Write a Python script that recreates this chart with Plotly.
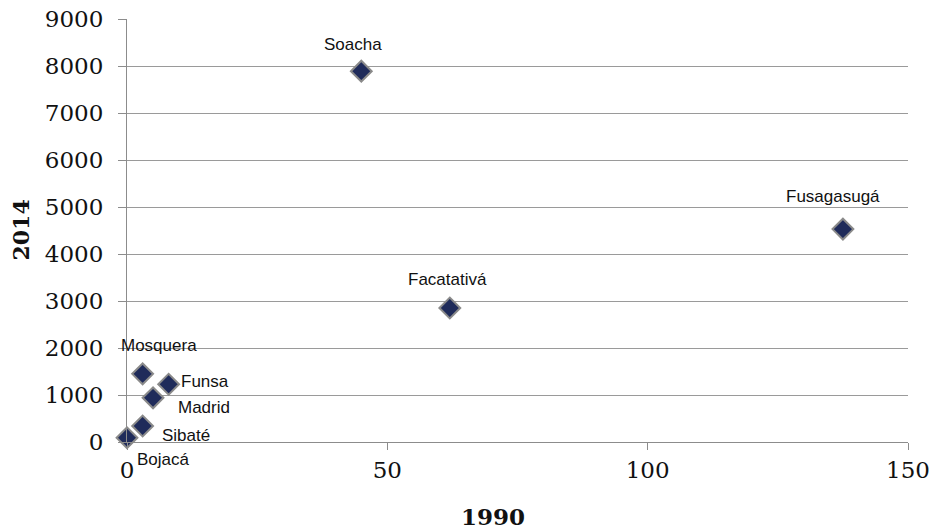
import plotly.graph_objects as go

municipios = ["Soacha", "Fusagasugá", "Facatativá", "Mosquera", "Funsa", "Madrid", "Sibaté", "Bojacá"]
v1990 = [45, 137.5, 62, 3, 8, 5, 3, 0]
v2014 = [7890, 4530, 2850, 1450, 1230, 940, 340, 90]
x_ticks = [0, 50, 100, 150]
y_ticks = [0, 1000, 2000, 3000, 4000, 5000, 6000, 7000, 8000, 9000]

# label offsets in pixels (dx, dy up)
label_offsets = {
    "Soacha": (-8, 27), "Fusagasugá": (-10, 33), "Facatativá": (-2, 29),
    "Mosquera": (16, 28), "Funsa": (36, 3), "Madrid": (51, -10),
    "Sibaté": (43, -9), "Bojacá": (36, -22),
}

fig = go.Figure()
fig.add_trace(go.Scatter(
    x=v1990, y=v2014, mode="markers",
    marker=dict(symbol="diamond", size=16, color="#1F2B5A",
                line=dict(color="#8A8A8A", width=2)),
    cliponaxis=False, hoverinfo="skip", showlegend=False,
))

annotations = []
for name, x, y in zip(municipios, v1990, v2014):
    dx, dy = label_offsets[name]
    annotations.append(dict(x=x, y=y, xref="x", yref="y", text=name, showarrow=False,
                            xshift=dx, yshift=dy, xanchor="center", yanchor="middle",
                            font=dict(family="Liberation Sans", size=17, color="#111111")))
annotations.append(dict(x=0.469, y=-0.177, xref="paper", yref="paper", text="<b>1990</b>",
                        showarrow=False, xanchor="center", yanchor="middle",
                        font=dict(family="DejaVu Serif", size=23, color="#111111")))
annotations.append(dict(x=-0.137, y=0.5, xref="paper", yref="paper", text="<b>2014</b>",
                        showarrow=False, textangle=-90, xanchor="center", yanchor="middle",
                        font=dict(family="DejaVu Serif", size=22, color="#111111")))

fig.update_layout(
    width=931, height=532,
    margin=dict(l=127, r=23, t=19, b=90),
    paper_bgcolor="white", plot_bgcolor="white",
    annotations=annotations,
    xaxis=dict(range=[0, 150], tickvals=x_ticks, showgrid=False, zeroline=False,
               automargin=False, ticklabeloverflow="allow",
               showline=True, linecolor="#8C8C8C", linewidth=1,
               ticks="outside", ticklen=7, tickcolor="#8C8C8C", ticklabelstandoff=0,
               tickfont=dict(family="DejaVu Serif", size=23, color="#111111")),
    yaxis=dict(range=[0, 9000], tickvals=y_ticks, showgrid=True, gridcolor="#9A9A9A",
               automargin=False, ticklabeloverflow="allow",
               zeroline=False, showline=True, linecolor="#8C8C8C", linewidth=1,
               ticks="outside", ticklen=8, tickcolor="#8C8C8C", ticklabelstandoff=10,
               tickfont=dict(family="DejaVu Serif", size=23, color="#111111")),
)

fig.write_html("out.html", config={"displayModeBar": False},
               post_script="document.body.style.margin='0px';")
